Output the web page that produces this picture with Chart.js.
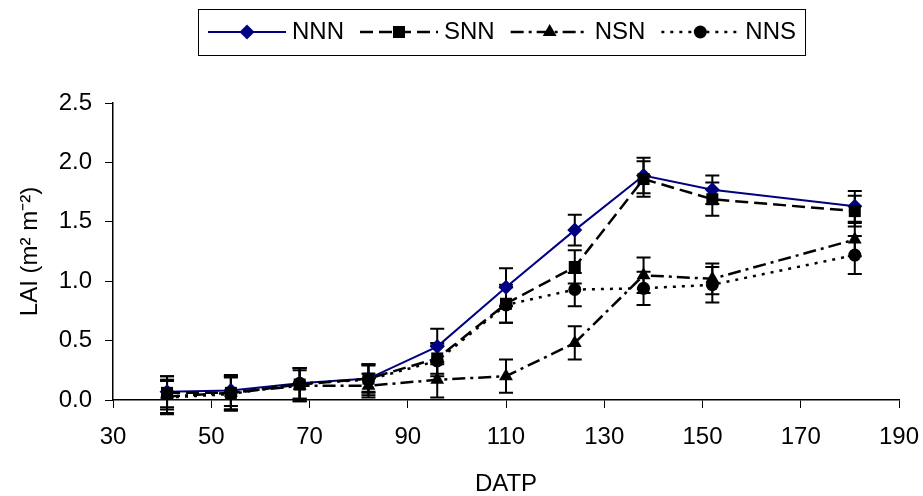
<!DOCTYPE html>
<html>
<head>
    <meta charset="UTF-8" />
    <title>LAI vs DATP</title>
    <script src="https://cdn.jsdelivr.net/npm/chart.js"></script>
    <style>
        body { margin: 0; background: #fff; }
    </style>
</head>
<body>
    <canvas id="laiChart" width="923" height="496"></canvas>

    <script>
        // days after transplanting
        const datp = [41, 54, 68, 82, 96, 110, 124, 138, 152, 181];

        // LAI means per treatment
        const nnn = [0.07, 0.08, 0.14, 0.18, 0.45, 0.95, 1.43, 1.89, 1.77, 1.63];
        const snn = [0.06, 0.06, 0.13, 0.18, 0.35, 0.81, 1.12, 1.86, 1.69, 1.59];
        const nsn = [0.03, 0.06, 0.12, 0.12, 0.17, 0.20, 0.48, 1.05, 1.02, 1.35];
        const nns = [0.02, 0.05, 0.14, 0.17, 0.33, 0.80, 0.93, 0.94, 0.97, 1.22];

        // error bar half-lengths
        const nnnErr = [0.13, 0.13, 0.13, 0.12, 0.15, 0.16, 0.13, 0.15, 0.12, 0.13];
        const snnErr = [0.14, 0.14, 0.14, 0.11, 0.13, 0.16, 0.14, 0.15, 0.14, 0.13];
        const nsnErr = [0.14, 0.14, 0.13, 0.10, 0.15, 0.14, 0.14, 0.15, 0.13, 0.14];
        const nnsErr = [0.14, 0.14, 0.13, 0.13, 0.13, 0.15, 0.14, 0.14, 0.15, 0.16];

        const xTicks = [30, 50, 70, 90, 110, 130, 150, 170, 190];
        const yTicks = [0, 0.5, 1.0, 1.5, 2.0, 2.5];

        const FONT = 'Liberation Sans, Arial, sans-serif';

        function pts(values) {
            return datp.map((d, i) => ({ x: d, y: values[i] }));
        }

        const series = [
            { label: 'NNN', data: nnn, err: nnnErr, color: '#000080', dash: [], width: 2, style: 'rectRot', radius: 7.5 },
            { label: 'SNN', data: snn, err: snnErr, color: '#000000', dash: [13, 6], width: 2.5, style: 'rect', radius: 8.5 },
            { label: 'NSN', data: nsn, err: nsnErr, color: '#000000', dash: [13, 5, 3, 5], width: 2.5, style: 'triangle', radius: 8 },
            { label: 'NNS', data: nns, err: nnsErr, color: '#000000', dash: [3, 6], width: 2.5, style: 'circle', radius: 6.5 }
        ];

        // error bars, drawn under the lines and markers
        const errorBars = {
            id: 'errorBars',
            beforeDatasetsDraw(chart) {
                const ctx = chart.ctx;
                const xs = chart.scales.x, ys = chart.scales.y;
                ctx.save();
                ctx.strokeStyle = '#000';
                ctx.lineWidth = 2;
                ctx.setLineDash([]);
                series.forEach(s => {
                    s.data.forEach((v, i) => {
                        const px = xs.getPixelForValue(datp[i]);
                        const top = ys.getPixelForValue(v + s.err[i]);
                        const bot = ys.getPixelForValue(v - s.err[i]);
                        ctx.beginPath();
                        ctx.moveTo(px, top); ctx.lineTo(px, bot);
                        ctx.moveTo(px - 7, top); ctx.lineTo(px + 7, top);
                        ctx.moveTo(px - 7, bot); ctx.lineTo(px + 7, bot);
                        ctx.stroke();
                    });
                });
                ctx.restore();
            }
        };

        function marker(ctx, style, x, y, r) {
            ctx.beginPath();
            if (style === 'rectRot') {
                ctx.moveTo(x, y - r); ctx.lineTo(x + r, y); ctx.lineTo(x, y + r); ctx.lineTo(x - r, y);
            } else if (style === 'rect') {
                const h = r * Math.SQRT1_2;
                ctx.rect(x - h, y - h, 2 * h, 2 * h);
            } else if (style === 'triangle') {
                ctx.moveTo(x, y - r); ctx.lineTo(x + r * 0.866, y + r * 0.5); ctx.lineTo(x - r * 0.866, y + r * 0.5);
            } else {
                ctx.arc(x, y, r, 0, Math.PI * 2);
            }
            ctx.closePath();
            ctx.fill();
        }

        // boxed legend with line samples, like the spreadsheet one
        const boxLegend = {
            id: 'boxLegend',
            afterDraw(chart) {
                const ctx = chart.ctx;
                ctx.save();
                ctx.font = '24px ' + FONT;
                ctx.textBaseline = 'middle';
                const cy = 32;
                let x = 208;
                series.forEach(s => {
                    ctx.strokeStyle = s.color;
                    ctx.lineWidth = s.width;
                    ctx.setLineDash(s.dash);
                    ctx.beginPath();
                    ctx.moveTo(x, cy); ctx.lineTo(x + 78, cy);
                    ctx.stroke();
                    ctx.fillStyle = s.color;
                    marker(ctx, s.style, x + 39, cy, s.radius);
                    ctx.fillStyle = '#000';
                    ctx.fillText(s.label, x + 84, cy);
                    x += 84 + ctx.measureText(s.label).width + 16;
                });
                ctx.setLineDash([]);
                ctx.strokeStyle = '#000';
                ctx.lineWidth = 1;
                ctx.strokeRect(198.5, 9.5, x - 16 + 9 - 198, 46);
                ctx.restore();
            }
        };

        const ctx = document.getElementById('laiChart').getContext('2d');

        new Chart(ctx, {
            type: 'line',
            data: {
                datasets: series.map((s, i) => ({
                    label: s.label,
                    data: pts(s.data),
                    borderColor: s.color,
                    backgroundColor: s.color,
                    borderWidth: s.width,
                    borderDash: s.dash,
                    pointStyle: s.style,
                    pointRadius: s.radius,
                    pointBorderWidth: 0,
                    pointBackgroundColor: s.color,
                    tension: 0,
                    fill: false,
                    order: series.length - 1 - i
                }))
            },
            options: {
                responsive: false,
                animation: false,
                layout: { padding: { left: 0, top: 103, right: 24, bottom: 0 } },
                plugins: {
                    legend: { display: false },
                    tooltip: { enabled: false }
                },
                scales: {
                    x: {
                        type: 'linear',
                        min: 30,
                        max: 190,
                        afterBuildTicks: axis => { axis.ticks = xTicks.map(v => ({ value: v })); },
                        afterFit: axis => { axis.height = 96; axis.paddingLeft = 0; axis.paddingRight = 0; },
                        grid: { drawOnChartArea: false, color: '#000', tickLength: 8, lineWidth: 1 },
                        border: { color: '#000', width: 1.5 },
                        ticks: { color: '#000', font: { family: FONT, size: 24 }, padding: 15, maxRotation: 0 },
                        title: { display: true, text: 'DATP', color: '#000', font: { family: FONT, size: 24, lineHeight: 1 }, padding: { top: 0, bottom: 0 } }
                    },
                    y: {
                        min: 0,
                        max: 2.5,
                        afterBuildTicks: axis => { axis.ticks = yTicks.map(v => ({ value: v })); },
                        afterFit: axis => { axis.width = 113; axis.paddingTop = 0; axis.paddingBottom = 0; },
                        grid: { drawOnChartArea: false, color: '#000', tickLength: 8, lineWidth: 1 },
                        border: { color: '#000', width: 1.5 },
                        ticks: { color: '#000', font: { family: FONT, size: 24 }, padding: 13, callback: v => Number(v).toFixed(1) },
                        title: { display: true, text: 'LAI (m\u00B2 m\u207B\u00B2)', color: '#000', font: { family: FONT, size: 24 }, padding: { top: 16, bottom: 0 } }
                    }
                }
            },
            plugins: [errorBars, boxLegend]
        });
    </script>
</body>
</html>
